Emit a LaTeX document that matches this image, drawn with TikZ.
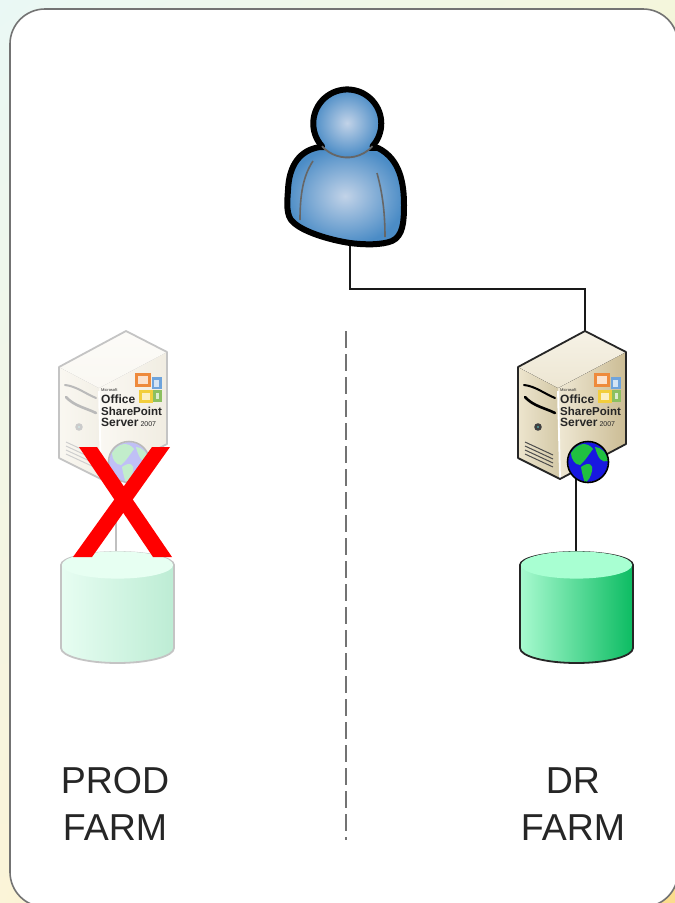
\documentclass[tikz,border=0pt]{standalone}
\usepackage{fontspec}
\usetikzlibrary{shadings}
\setmainfont{Liberation Sans}
\tikzset{
  panel/.style={draw=black!55,line width=1.6pt,fill=white,rounded corners=35pt},
  wire/.style={draw=black!90,line width=1.6pt},
  farmlabel/.style={align=center,font=\fontsize{37.5}{47}\selectfont,text=black!85},
  srvtext/.style={anchor=base west,inner sep=0pt,text=black!85},
  cylbody/.style={draw=black!85,line width=1.8pt,left color=cylL,right color=cylR},
  srvedge/.style={draw=black!85,line width=1.8pt,line join=round},
  slot/.style={draw=black,line width=2pt,line cap=round},
  vent/.style={draw=black!70,line width=1pt},
  logo/.style={line width=3pt},
  landmass/.style={fill=landGreen},
  cylinderpic/.pic={
    \path[cylbody] (-56.5,13) -- (-56.5,96) arc[start angle=180,end angle=0,x radius=56.5,y radius=15] -- (56.5,13) arc[start angle=0,end angle=-180,x radius=56.5,y radius=13] -- cycle;
    \fill[cylTop] (0,13) ellipse[x radius=55.6,y radius=13.6];
  },
  serverbody/.pic={
    \fill[left color=srvA,right color=srvB] (-67,36) -- (-27,57) -- (-25,148) -- (-67,127) -- cycle;
    \fill[left color=srvC,right color=srvD] (-27,57) -- (41,21) -- (41,113) -- (-25,148) -- cycle;
    \fill[top color=srvT,bottom color=srvU] (0,0) -- (41,21) -- (-27,57) -- (-67,36) -- cycle;
    \draw[white,line width=1.8pt] (-27,60) -- (-25,147);
    \draw[srvedge] (0,0) -- (41,21) -- (41,113) -- (-25,148) -- (-67,127) -- (-67,36) -- cycle;
    \draw[slot] (-61,54) .. controls (-50,55) and (-40,63) .. (-30,67);
    \draw[slot,line width=2.6pt] (-60,66) .. controls (-52,75) and (-40,77) .. (-30,82);
    \fill[black!75] (-47,96) circle (3.8);
    \fill[teal!70!white] (-47,96) circle (1.2);
    \foreach \i in {0,4,8,12} \draw[vent] (-60,111+\i) -- (-32,124+\i);
  },
  serverbadge/.pic={
    \draw[logo,draw=logoOrange,fill=logoOrange!25!white] (10.5,43) rectangle (23.5,54);
    \draw[logo,draw=logoBlue,fill=logoBlue!30!white,line width=2.4pt] (27,47.5) rectangle (34.5,57);
    \draw[logo,draw=logoYellow,fill=logoYellow!30!white] (14,60) rectangle (25.5,70);
    \draw[logo,draw=logoGreen,fill=logoGreen!30!white,line width=2.4pt] (28.5,60.5) rectangle (34.5,69.5);
    \node[srvtext,font=\fontsize{4}{4}\selectfont] at (-25,60) {Microsoft};
    \node[srvtext,font=\bfseries\fontsize{12}{12}\selectfont] at (-25,72) {Office};
    \node[srvtext,font=\bfseries\fontsize{11.5}{12}\selectfont] at (-25,84) {SharePoint};
    \node[srvtext,font=\fontsize{12}{12}\selectfont] at (-25,95) {\textbf{Server}\,{\fontsize{7}{7}\selectfont 2007}};
  },
  serverglobe/.pic={
    \begin{scope}
      \clip (3,131) circle (20);
      \fill[globeBlue] (3,131) circle (20);
      \fill[landmass] (-14,122) .. controls (-8,112) and (2,110) .. (8,118) .. controls (2,126) and (0,130) .. (-5,134) .. controls (-10,134) and (-14,128) .. (-14,122) -- cycle;
      \fill[landmass] (-4,136) .. controls (4,130) and (9,134) .. (7,140) .. controls (6,146) and (3,150) .. (0,152) .. controls (-2,146) and (-3,142) .. (-4,136) -- cycle;
      \fill[landmass] (10,116) .. controls (16,116) and (22,122) .. (23,130) .. controls (17,132) and (13,128) .. (10,116) -- cycle;
    \end{scope}
    \draw[black,line width=1.6pt] (3,131) circle (20.5);
  }
}
\definecolor{cylL}{HTML}{A8FAD0}
\definecolor{cylR}{HTML}{0CBC62}
\definecolor{cylTop}{HTML}{A8FFD2}
\definecolor{srvA}{HTML}{EDE5CE}
\definecolor{srvB}{HTML}{D3C8A6}
\definecolor{srvC}{HTML}{EFE8D4}
\definecolor{srvD}{HTML}{CBBC94}
\definecolor{srvT}{HTML}{F6F2E6}
\definecolor{srvU}{HTML}{EDE6D2}
\definecolor{userIn}{HTML}{C2D3E8}
\definecolor{userOut}{HTML}{4B8CC6}
\definecolor{landGreen}{HTML}{20C040}
\definecolor{globeBlue}{HTML}{1818E0}
\definecolor{logoOrange}{HTML}{EE8A3C}
\definecolor{logoBlue}{HTML}{6FA4DC}
\definecolor{logoYellow}{HTML}{F2CE3C}
\definecolor{logoGreen}{HTML}{8CC060}
\definecolor{bgTL}{HTML}{EAF8F5}
\definecolor{bgTR}{HTML}{F4F6DC}
\definecolor{bgBL}{HTML}{FBF4D8}
\definecolor{bgBR}{HTML}{FBDC8C}
\begin{document}
\begin{tikzpicture}[x=1pt,y=-1pt]
\path[use as bounding box] (0,0) rectangle (675,903);
\clip (0,0) rectangle (675,903);
\shade[upper left=bgTL,upper right=bgTR,lower left=bgBL,lower right=bgBR] (0,0) rectangle (675,903);
\path[panel] (10,9) rectangle (678,907);

% dashed divider
\coordinate (divA) at (346,331);
\coordinate (divB) at (346,840);
\draw[draw=black!55,line width=1.4pt,dash pattern=on 17pt off 6pt] (divA) -- (divB);

% connector anchors
\coordinate (userFoot) at (350,240);
\coordinate (bend) at (585,289);
\coordinate (drTop) at (585,331);
\coordinate (drGlobe) at (576,478);
\coordinate (drDb) at (576,552);
\coordinate (prodGlobe) at (116,478);
\coordinate (prodDb) at (116,552);

\draw[wire] (userFoot) |- (bend) -- (drTop);
\draw[wire] (drGlobe) -- (drDb);

% user
\begin{scope}[line join=round]
\path[draw=black,line width=6pt,inner color=userIn,outer color=userOut]
  (320,147) .. controls (300,150) and (289,165) .. (288,190)
  .. controls (287,203) and (286,216) .. (293,222)
  .. controls (303,232) and (330,240) .. (350,243)
  .. controls (365,245) and (382,245) .. (392,241)
  .. controls (403,236) and (404,222) .. (404,205)
  .. controls (404,183) and (400,159) .. (378,148)
  -- cycle;
\fill[inner color=userIn,outer color=userOut] (347,123) circle (34);
\draw[black,line width=6pt,line cap=round] (322,146.2) arc[start angle=138,end angle=402,radius=34];
\draw[black!60,line width=1.8pt] (322,146.2) arc[start angle=138,end angle=42,radius=34];
\draw[black!60,line width=1.6pt] (313,161) .. controls (303,176) and (300,195) .. (300,220);
\draw[black!60,line width=1.6pt] (377,173) .. controls (383,195) and (385,215) .. (385,237);
\end{scope}

% DR farm
\pic (drServer) at (585,331) {serverbody};
\pic (drBadge) at (585,331) {serverbadge};
\pic (drWorld) at (585,331) {serverglobe};
\pic (drCylinder) at (576.5,552) {cylinderpic};
\node[farmlabel] (drLabel) at (573,804) {DR\\FARM};

% PROD farm (faded)
\begin{scope}[transparency group,opacity=.27]
\pic (prodServer) at (126,331) {serverbody};
\pic (prodWorld) at (126,331) {serverglobe};
\draw[black!90,line width=1.6pt] (prodGlobe) -- (prodDb);
\pic (prodCylinder) at (117.5,552) {cylinderpic};
\end{scope}
\pic (prodBadge) at (126,331) {serverbadge};
\node[farmlabel] (prodLabel) at (115,804) {PROD\\FARM};

% red cross
\fill[red] (79,447) -- (97,447) -- (172,557) -- (153,557) -- cycle;
\fill[red] (152,447) -- (170,447) -- (92,557) -- (73,557) -- cycle;
\end{tikzpicture}
\end{document}
